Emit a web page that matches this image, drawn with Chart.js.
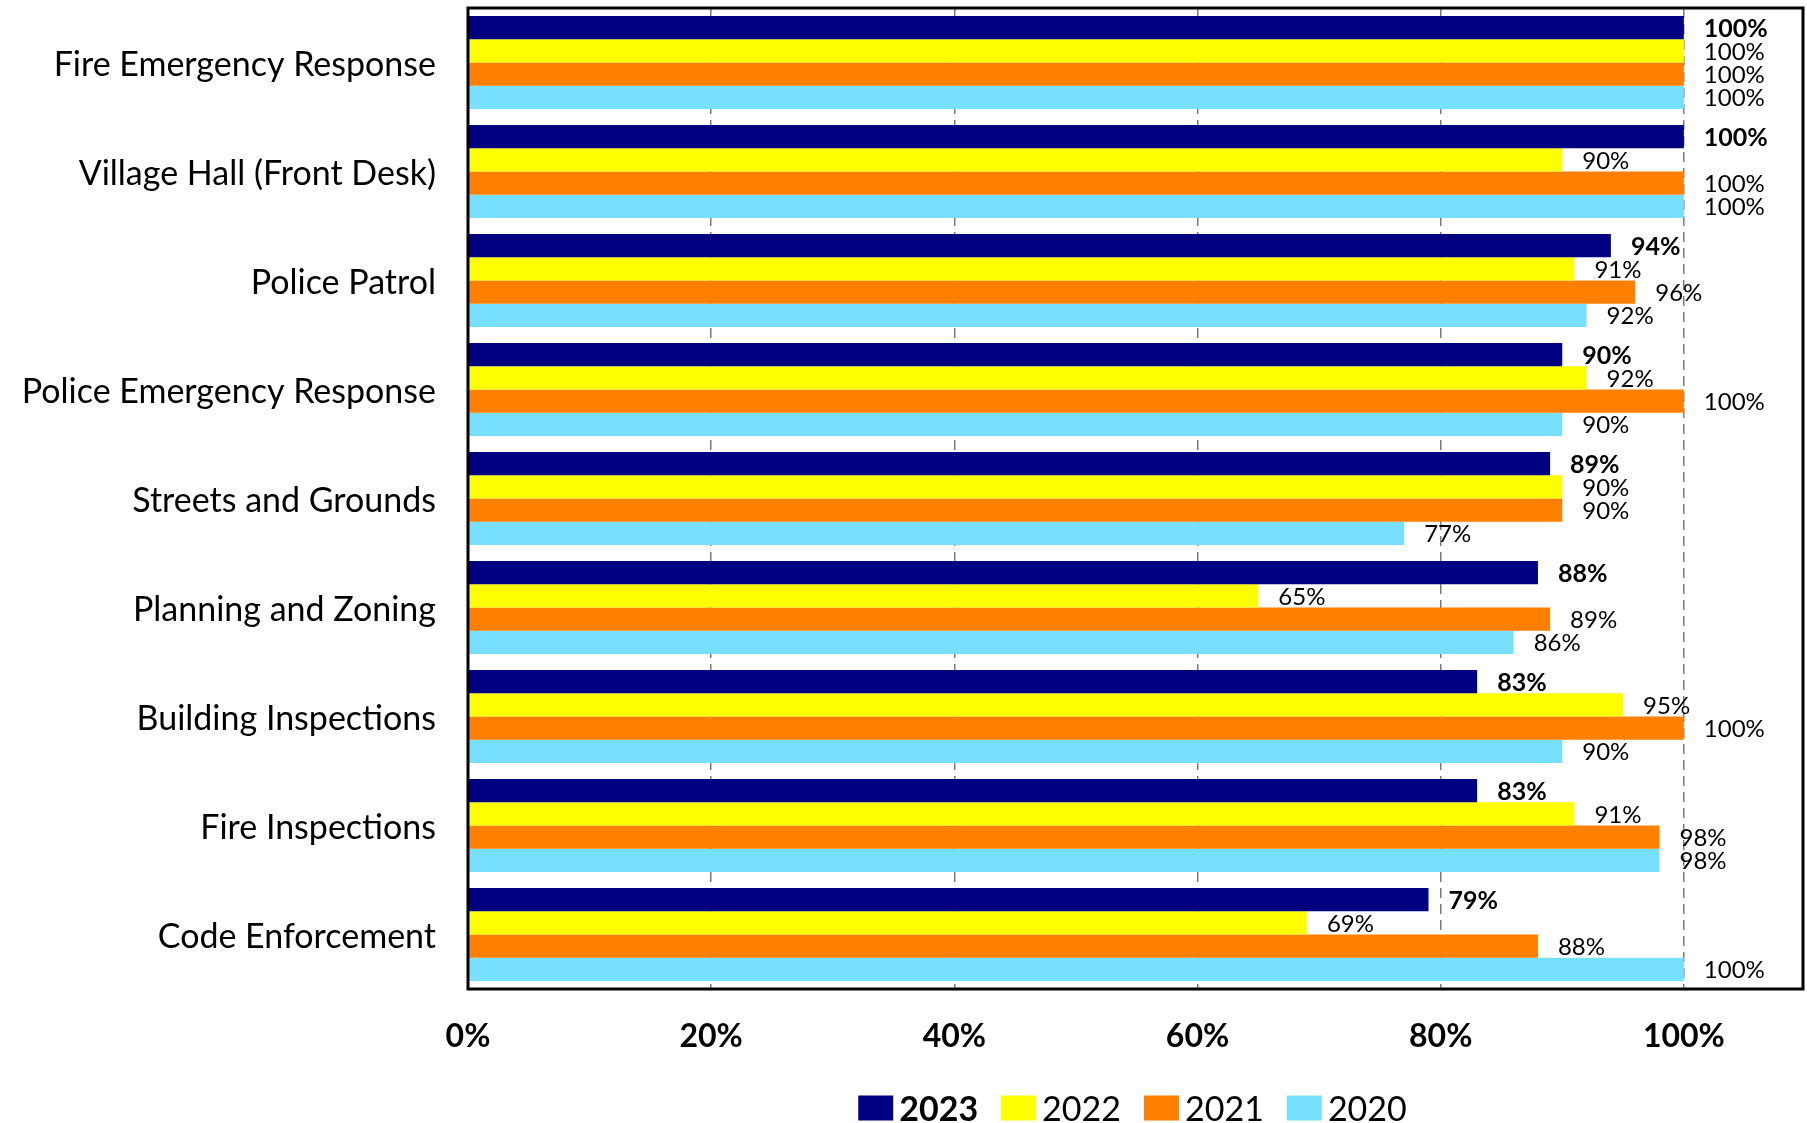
<!DOCTYPE html>
<html>
<head>
<meta charset="utf-8">
<script src="https://cdn.jsdelivr.net/npm/chart.js@4"></script>
<style>
  html, body { margin: 0; padding: 0; background: #ffffff; }
  #wrap { width: 1807px; height: 1123px; }
</style>
</head>
<body>
<div id="wrap"><canvas id="chart" width="1807" height="1123"></canvas></div>
<script>
// Service areas, top to bottom
const categories = [
  'Fire Emergency Response',
  'Village Hall (Front Desk)',
  'Police Patrol',
  'Police Emergency Response',
  'Streets and Grounds',
  'Planning and Zoning',
  'Building Inspections',
  'Fire Inspections',
  'Code Enforcement'
];

// Survey years, newest first
const seriesYears = ['2023', '2022', '2021', '2020'];

// Percent rating per service area
const values2023 = [100, 100, 94, 90, 89, 88, 83, 83, 79];
const values2022 = [100, 90, 91, 92, 90, 65, 95, 91, 69];
const values2021 = [100, 100, 96, 100, 90, 89, 100, 98, 88];
const values2020 = [100, 100, 92, 90, 77, 86, 90, 98, 100];

const seriesValues = [values2023, values2022, values2021, values2020];
const seriesColors = ['#000080', '#FFFF00', '#FF8000', '#78E0FF'];

// Percent tick labels along the bottom axis
const xTickValues = [0, 20, 40, 60, 80, 100];

const FONT = 'Lato, "Open Sans", sans-serif';

// Value labels just past the end of each bar; newest year in bold
const valueLabels = {
  id: 'valueLabels',
  afterDatasetsDraw(chart) {
    const ctx = chart.ctx;
    ctx.save();
    ctx.fillStyle = '#000000';
    ctx.textAlign = 'left';
    ctx.textBaseline = 'middle';
    chart.data.datasets.forEach((ds, i) => {
      const meta = chart.getDatasetMeta(i);
      ctx.font = (i === 0 ? 'bold 25px ' : '24px ') + FONT;
      meta.data.forEach((bar, j) => {
        ctx.fillText(ds.data[j] + '%', bar.x + 20, bar.y + 1);
      });
    });
    ctx.restore();
  }
};

// Solid frame round the plot area
const plotFrame = {
  id: 'plotFrame',
  afterDraw(chart) {
    const a = chart.chartArea;
    const ctx = chart.ctx;
    ctx.save();
    ctx.strokeStyle = '#000000';
    ctx.lineWidth = 3;
    ctx.strokeRect(a.left, a.top, a.right - a.left, a.bottom - a.top);
    ctx.restore();
  }
};

// Legend row under the axis; newest year in bold
const yearLegend = {
  id: 'yearLegend',
  afterDraw(chart) {
    const ctx = chart.ctx;
    const a = chart.chartArea;
    const boxW = 35, boxH = 25, boxGap = 6, itemGap = 23;
    const cy = 1108;
    ctx.save();
    ctx.textBaseline = 'middle';
    ctx.textAlign = 'left';
    const items = chart.data.datasets.map((ds, i) => {
      ctx.font = (i === 0 ? 'bold ' : '') + '34px ' + FONT;
      return { text: ds.label, color: ds.backgroundColor, font: ctx.font, w: ctx.measureText(ds.label).width };
    });
    let total = 0;
    items.forEach((it, i) => { total += boxW + boxGap + it.w + (i < items.length - 1 ? itemGap : 0); });
    let x = (a.left + a.right) / 2 - 3 - total / 2;
    items.forEach((it) => {
      ctx.fillStyle = it.color;
      ctx.fillRect(x, cy - boxH / 2, boxW, boxH);
      x += boxW + boxGap;
      ctx.font = it.font;
      ctx.fillStyle = '#000000';
      ctx.fillText(it.text, x, cy + 2);
      x += it.w + itemGap;
    });
    ctx.restore();
  }
};

new Chart(document.getElementById('chart'), {
  type: 'bar',
  data: {
    labels: categories,
    datasets: seriesYears.map((year, i) => ({
      label: year,
      data: seriesValues[i],
      backgroundColor: seriesColors[i],
      borderWidth: 0,
      categoryPercentage: 0.853,
      barPercentage: 1.0
    }))
  },
  options: {
    indexAxis: 'y',
    responsive: false,
    animation: false,
    layout: { padding: { top: 8, right: 4, bottom: 0, left: 0 } },
    plugins: {
      legend: { display: false },
      tooltip: { enabled: false }
    },
    scales: {
      x: {
        min: 0,
        max: 109.8,
        afterBuildTicks: (scale) => { scale.ticks = xTickValues.map(v => ({ value: v })); },
        afterFit: (scale) => { scale.height = 134; scale.paddingLeft = 0; scale.paddingRight = 0; },
        grid: {
          color: '#7a7a7a',
          lineWidth: 1.5,
          drawTicks: false
        },
        border: { display: false, dash: [10, 6] },
        ticks: {
          padding: 28,
          color: '#000000',
          font: { family: FONT, size: 32, weight: 'bold' },
          callback: (v) => v + '%'
        }
      },
      y: {
        afterFit: (scale) => { scale.width = 468; scale.paddingTop = 0; scale.paddingBottom = 0; },
        grid: { display: false, drawTicks: false },
        border: { display: false },
        ticks: {
          padding: 32,
          labelOffset: 3,
          color: '#000000',
          font: { family: FONT, size: 34 }
        }
      }
    }
  },
  plugins: [valueLabels, plotFrame, yearLegend]
});
</script>
</body>
</html>
